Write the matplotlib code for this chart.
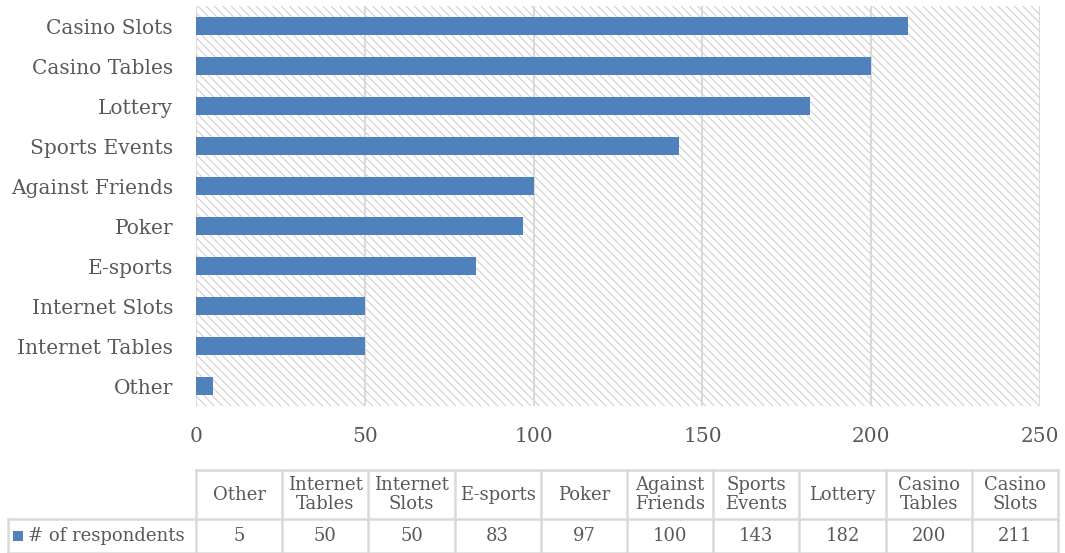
import matplotlib
matplotlib.use("Agg")
import matplotlib.pyplot as plt
from matplotlib.patches import Rectangle

categories = ["Other", "Internet Tables", "Internet Slots", "E-sports", "Poker",
              "Against Friends", "Sports Events", "Lottery", "Casino Tables", "Casino Slots"]
header_labels = ["Other", "Internet\nTables", "Internet\nSlots", "E-sports", "Poker",
                 "Against\nFriends", "Sports\nEvents", "Lottery", "Casino\nTables", "Casino\nSlots"]
respondents = [5, 50, 50, 83, 97, 100, 143, 182, 200, 211]
series_name = "# of respondents"
xticks = [0, 50, 100, 150, 200, 250]

W, H = 1065, 553
bar_color = "#4f81bd"
text_color = "#595959"
grid_color = "#d9d9d9"
plt.rcParams["font.family"] = ["DejaVu Serif"]
plt.rcParams["hatch.color"] = "#cfcfcf"
plt.rcParams["hatch.linewidth"] = 0.8

fig = plt.figure(figsize=(W / 100, H / 100), dpi=100)
ax = fig.add_axes([196 / W, 1 - 406 / H, (1040 - 196) / W, 400 / H])

# hatched background
bg = Rectangle((0, 0), 1, 1, transform=ax.transAxes, facecolor="white",
               edgecolor="#cfcfcf", hatch="\\\\\\\\", linewidth=0, zorder=0)
ax.add_patch(bg)

ypos = list(range(len(categories)))
ax.barh(ypos, respondents, height=0.43, color=bar_color, zorder=3)
ax.set_xlim(0, 250)
ax.set_ylim(-0.5, len(categories) - 0.5)
ax.set_xticks(xticks)
ax.set_yticks(ypos)
ax.set_yticklabels(categories)
ax.xaxis.grid(True, color=grid_color, linewidth=1.5, zorder=1)
ax.set_axisbelow(True)
for s in ax.spines.values():
    s.set_visible(False)
ax.tick_params(axis="both", length=0, labelsize=14.5, colors=text_color)
ax.tick_params(axis="y", pad=16.5)
ax.tick_params(axis="x", pad=15)

# data table below
tx = fig.add_axes([196 / W, 0, (1058 - 196) / W, 83 / H])
tx.set_xlim(0, len(categories))
tx.set_ylim(0, 83)
tx.axis("off")
lab_w = 188 / 86.2
ncol = len(categories)
lk = dict(color=grid_color, linewidth=1.8, clip_on=False)
tx.plot([0, ncol], [83, 83], **lk)
tx.plot([-lab_w, ncol], [34, 34], **lk)
tx.plot([-lab_w, ncol], [0, 0], **lk)
for i in range(ncol + 1):
    tx.plot([i, i], [0, 83], **lk)
tx.plot([-lab_w, -lab_w], [0, 34], **lk)
for i in range(ncol):
    tx.text(i + 0.5, 58.5, header_labels[i], ha="center", va="center",
            fontsize=13, color=text_color, linespacing=1.1)
    tx.text(i + 0.5, 17, str(respondents[i]), ha="center", va="center",
            fontsize=13, color=text_color)
tx.add_patch(Rectangle((-lab_w + 0.06, 12), 0.11, 10, facecolor=bar_color,
                       edgecolor="none", clip_on=False))
tx.text(-lab_w + 0.23, 17, series_name, ha="left", va="center",
        fontsize=13, color=text_color)

fig.savefig("out.png", dpi=100)
